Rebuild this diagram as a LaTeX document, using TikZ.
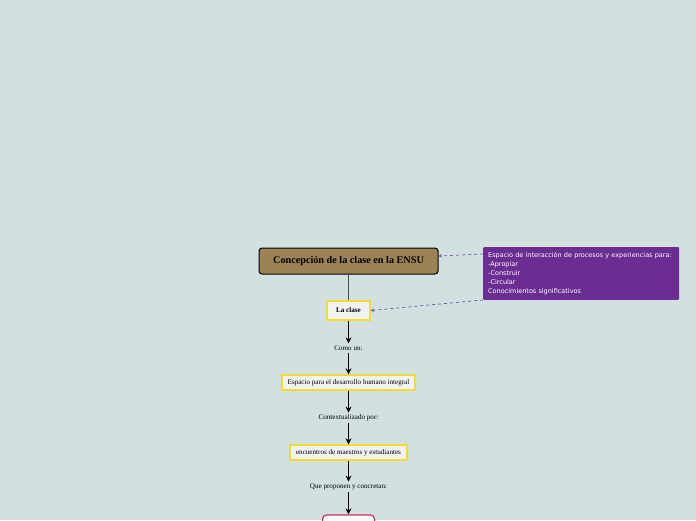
\documentclass[tikz,border=0pt]{standalone}
\usepackage{fontspec}
\setmainfont{Liberation Serif}
\newfontfamily\notefont{DejaVu Sans}
\usetikzlibrary{arrows.meta,positioning}
\definecolor{bgmap}{RGB}{211,224,225}
\definecolor{brownmain}{RGB}{156,131,86}
\definecolor{yellowline}{RGB}{242,220,48}
\definecolor{redline}{RGB}{200,50,78}
\definecolor{purplenote}{RGB}{107,45,145}
\definecolor{purpledash}{RGB}{120,80,160}
\begin{document}
\begin{tikzpicture}[
    x=1pt,y=-1pt,
    topic/.style={draw=black, line width=1pt, rounded corners=3pt, fill=brownmain,
        minimum width=179pt, minimum height=26pt, font=\fontsize{10.2}{11}\selectfont\bfseries},
    subtopic/.style={draw=yellowline, line width=1.3pt, fill=white!95!black,
        minimum height=15pt, inner sep=2pt, font=\fontsize{7.1}{8}\selectfont},
    linkword/.style={inner sep=2pt, font=\fontsize{7.1}{8}\selectfont},
    flow/.style={-{Stealth[length=6pt,width=6pt]}, line width=1.3pt, black},
    note/.style={fill=purplenote, rounded corners=1pt, text=white, align=left,
        anchor=north west, text width=186pt, minimum width=196pt, minimum height=50pt,
        inner sep=5pt, font=\notefont\fontsize{6.5}{9}\selectfont},
    notelink/.style={-{Stealth[length=3.5pt,width=3.5pt]}, dashed, purpledash, line width=0.7pt}
    ]
	\useasboundingbox (0,0) rectangle (696,520);
	\clip (0,0) rectangle (696,520);
	\fill[bgmap] (0,0) rectangle (696,520);
	\node [topic] (ensu) at (348.5,261) {Concepción de la clase en la ENSU};
	\node [subtopic, minimum width=43pt, minimum height=19pt, font=\fontsize{7.1}{8}\selectfont\bfseries] (clase) at (348.5,310.5) {La clase};
	\node [linkword] (como) at (348.5,348) {Como un:};
	\node [subtopic, minimum width=133pt] (espacio) at (348.5,382.5) {Espacio para el desarrollo humano integral};
	\node [linkword] (contexto) at (348.5,418) {Contextualizado por:};
	\node [subtopic, minimum width=117pt] (encuentros) at (348.5,452.5) {encuentros de maestros y estudiantes};
	\node [linkword] (proponen) at (348.5,487) {Que proponen y concretan:};
	\node [draw=redline, line width=1.2pt, fill=white, rounded corners=4pt,
	    minimum width=52pt, minimum height=22pt] (siguiente) at (348.5,526) {};
	\node [note] (espacionota) at (483,247) {Espacio de interacción de procesos y experiencias para:\\-Apropiar\\-Construir\\-Circular\\Conocimientos significativos};
	% conectores
	\draw [line width=1pt, black!70] (ensu) -- (clase);
	\draw [flow] (clase) -- (como);
	\draw [flow] (como) -- (espacio);
	\draw [flow] (espacio) -- (contexto);
	\draw [flow] (contexto) -- (encuentros);
	\draw [flow] (encuentros) -- (proponen);
	\draw [flow] (proponen) -- (siguiente);
	\draw [notelink] ([yshift=-7pt]espacionota.north west) -- ([yshift=5pt]ensu.east);
	\draw [notelink] (espacionota.south west) -- (clase.east);
\end{tikzpicture}
\end{document}
